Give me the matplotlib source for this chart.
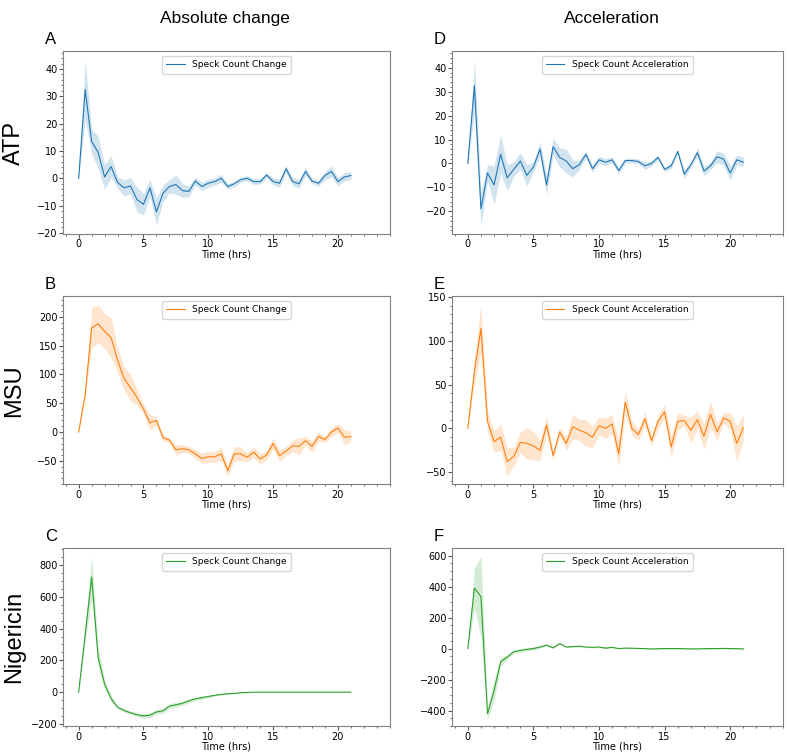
import numpy as np
import matplotlib
matplotlib.use('Agg')
import matplotlib.pyplot as plt
from matplotlib.ticker import MultipleLocator

# time points, every half hour
hours = np.arange(0, 21.5, 0.5)

# ATP
atp_change = [0, 32.5, 13.5, 9.5, 0.5, 4.3, -1.5, -3.5, -2.8, -7.8, -9.5, -3.5, -12.3, -5.5, -3,
              -2.3, -4.5, -4.8, -1, -3, -1.8, -1.2, 0, -3, -2, -0.5, 0, -1.2, -1.2, 1.2, -1.2,
              -1.8, 3.5, -1.2, -2, 2.5, -1, -1.8, 1, 2.5, -1.2, 0.5, 1]
atp_change_err = [0, 11, 4.5, 6, 4.5, 4, 2, 3, 3, 4.5, 4, 3, 5, 3, 2.5, 3.5, 2.5, 2, 1.5, 1.5,
                  1.5, 1.3, 1.5, 1, 1, 1, 1, 1, 1, 1, 1.3, 1.5, 1.2, 1.5, 1.5, 1.5, 1, 1, 1.5,
                  2, 1.5, 1.5, 1.5]
atp_accel = [0, 32.5, -19, -4, -9, 3.8, -6, -2.5, 1, -5, -1.5, 6, -9, 7, 2.5, 1, -2.2, -0.5,
             3.8, -2.2, 1.5, 0.5, 1.5, -3, 1.2, 1.2, 0.8, -1, 0, 2.5, -2.5, -1, 5, -4.5, -0.5,
             4.5, -3.2, -1, 2.8, 1.8, -4, 1.5, 0.5]
atp_accel_err = [0, 11, 7, 3.5, 8, 8, 5.5, 3, 3.5, 4.5, 2, 3, 4, 3.5, 4, 5, 3.5, 2, 1.5, 1.5,
                 1.5, 1.5, 1.2, 1.5, 1, 1, 1, 1.5, 1.2, 1, 1, 1.2, 1, 1.8, 1, 2, 2, 1.5, 2.5,
                 2.5, 3, 2, 2]

# MSU
msu_change = [0, 65, 181, 188, 175, 164, 125, 93, 77, 60, 40, 16, 20, -10, -14, -31, -29, -31,
              -38, -46, -43, -43, -38, -67, -38, -38, -44, -35, -47, -40, -20, -41, -33, -24,
              -25, -15, -25, -8, -13, 0, 7, -9, -8]
msu_change_err = [0, 5, 35, 33, 30, 35, 22, 20, 23, 14, 8, 14, 7, 6, 4, 9, 7, 6, 8, 9, 10, 9,
                  12, 9, 13, 12, 8, 9, 10, 8, 10, 10, 8, 10, 15, 8, 10, 8, 5, 8, 8, 13, 9]
msu_accel = [0, 65, 114, 8, -15, -10, -38, -32, -16, -17, -20, -25, 4, -31, -4, -17, 2, -2, -5,
             -10, 3, 0, 5, -29, 30, 0, -7, 11, -14, 8, 19, -21, 8, 9, -2, 10, -9, 16, -4, 12,
             8, -17, 1]
msu_accel_err = [0, 15, 27, 12, 12, 15, 16, 10, 12, 18, 16, 12, 10, 5, 5, 8, 14, 12, 15, 12,
                 10, 12, 10, 15, 13, 8, 6, 8, 6, 8, 8, 12, 10, 6, 15, 10, 15, 15, 10, 6, 10,
                 20, 15]

# Nigericin
nig_change = [0, 360, 725, 220, 50, -40, -95, -115, -130, -142, -150, -145, -125, -118, -88,
              -80, -70, -55, -42, -35, -27, -20, -14, -10, -8, -4, -2, -1, 0, 0, 0, 0, 0, 0,
              0, 0, 0, 0, 0, 0, 0, 0, 0]
nig_change_err = [0, 50, 130, 60, 30, 20, 10, 10, 10, 12, 15, 15, 15, 15, 15, 15, 12, 12, 10,
                  10, 8, 6, 5, 4, 3, 2, 2, 1, 1, 1, 1, 1, 1, 1, 1, 1, 1, 1, 1, 1, 1, 1, 1]
nig_accel = [0, 390, 335, -420, -270, -85, -55, -20, -12, -5, 0, 10, 22, 5, 32, 10, 13, 15,
             10, 8, 10, 3, 8, 0, 3, 2, 1, 0, -3, -1, 0, 0, 0, -1, -2, -2, -1, 0, 0, 1, 0, -1, -2]
nig_accel_err = [0, 130, 260, 30, 70, 30, 15, 10, 10, 10, 10, 8, 6, 5, 5, 5, 5, 4, 4, 4, 4, 4,
                 4, 3, 3, 3, 3, 3, 3, 3, 3, 3, 3, 3, 3, 3, 3, 3, 3, 3, 3, 3, 3]

rows = ['ATP', 'MSU', 'Nigericin']
letters = [['A', 'D'], ['B', 'E'], ['C', 'F']]
colors = ['#1f77b4', '#ff7f0e', '#2ca02c']
series = [[(atp_change, atp_change_err), (atp_accel, atp_accel_err)],
          [(msu_change, msu_change_err), (msu_accel, msu_accel_err)],
          [(nig_change, nig_change_err), (nig_accel, nig_accel_err)]]
ystep = [10, 50, 200]
legend_names = ['Speck Count Change', 'Speck Count Acceleration']


def draw_panel(ax, y, err, color, name, step):
    y = np.asarray(y, dtype=float)
    err = np.asarray(err, dtype=float)
    ax.fill_between(hours, y - err, y + err, color=color, alpha=0.2, linewidth=0)
    ax.plot(hours, y, color=color, linewidth=0.8, label=name)
    ax.set_xlim(-1.2, 24)
    ax.yaxis.set_major_locator(MultipleLocator(step))
    ax.minorticks_on()
    ax.tick_params(axis='both', which='both', labelsize=7, color='#555555', pad=1)
    ax.tick_params(which='major', length=3)
    ax.tick_params(which='minor', length=1.5)
    for s in ax.spines.values():
        s.set_color('#808080')
    ax.set_xlabel('Time (hrs)', fontsize=7, labelpad=0)
    ax.legend(loc='upper center', fontsize=6.5, borderpad=0.5)


fig = plt.figure(figsize=(7.89, 7.52), dpi=100)

lefts = [0.080, 0.573]
widths = [0.414, 0.419]
bottoms = [0.689, 0.356, 0.034]
heights = [0.243, 0.250, 0.237]

for r in range(3):
    for c in range(2):
        ax = fig.add_axes([lefts[c], bottoms[r], widths[c], heights[r]])
        y, err = series[r][c]
        assert len(y) == len(hours) and len(err) == len(hours)
        draw_panel(ax, y, err, colors[r], legend_names[c], ystep[r])
        fig.text(lefts[c] - 0.023, bottoms[r] + heights[r] + 0.006, letters[r][c],
                 fontsize=12, family='Liberation Sans', ha='left', va='bottom')
    fig.text(0.018, bottoms[r] + heights[r] / 2, rows[r], rotation=90, fontsize=17,
             family='Liberation Sans', ha='center', va='center')

fig.text(0.285, 0.976, 'Absolute change', fontsize=12.5, family='Liberation Sans',
         ha='center', va='center')
fig.text(0.776, 0.976, 'Acceleration', fontsize=12.5, family='Liberation Sans',
         ha='center', va='center')

fig.savefig('out.png', dpi=100)
